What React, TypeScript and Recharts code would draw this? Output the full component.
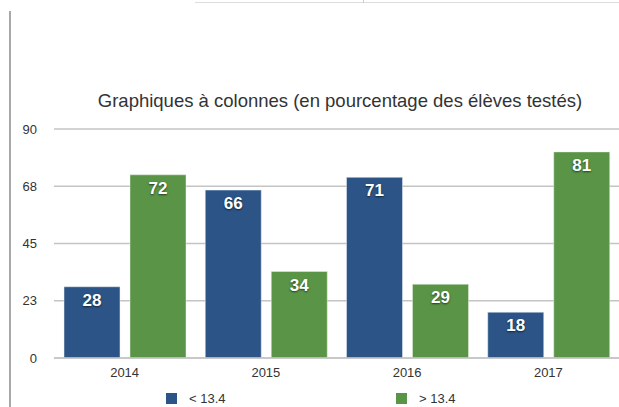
import React from "react";
import { Bar, BarChart, CartesianGrid, LabelList, XAxis, YAxis } from "recharts";

const years = ["2014", "2015", "2016", "2017"];
const below = [28, 66, 71, 18];
const above = [72, 34, 29, 81];
const yTicks = [0, 22.5, 45, 67.5, 90];

const data = years.map((year, i) => ({ year, below: below[i], above: above[i] }));

const BLUE = "#2c5487";
const GREEN = "#5a9446";
const FONT = "'Liberation Sans', Arial, sans-serif";

function LegendBox() {
  const item = (left: number, color: string, label: string) => (
    <div style={{ position: "absolute", left, top: 0, display: "flex", alignItems: "center" }}>
      <span style={{ width: 11, height: 11, background: color, display: "inline-block" }} />
      <span style={{ marginLeft: 12, fontSize: 13, color: "#333" }}>{label}</span>
    </div>
  );
  return (
    <div style={{ position: "absolute", left: 0, top: 391, width: 619, height: 16, fontFamily: FONT }}>
      {item(166, BLUE, "< 13.4")}
      {item(396, GREEN, "> 13.4")}
    </div>
  );
}

export default function App() {
  return (
    <div style={{ position: "absolute", left: 0, top: 0, width: 619, height: 407, background: "#fff", fontFamily: FONT }}>
      {/* bits of the surrounding page in the screenshot */}
      <div style={{ position: "absolute", left: 9, top: 11, width: 2, height: 396, background: "#a8a8a8" }} />
      <div style={{ position: "absolute", left: 195, top: 2, width: 424, height: 1, background: "#ddd" }} />
      <div style={{ position: "absolute", left: 363, top: 0, width: 1, height: 3, background: "#ccc" }} />

      <div
        style={{
          position: "absolute",
          left: 50,
          width: 580,
          top: 90,
          textAlign: "center",
          fontSize: 18.5,
          color: "#333",
        }}
      >
        Graphiques à colonnes (en pourcentage des élèves testés)
      </div>

      <div style={{ position: "absolute", left: 0, top: 0 }}>
        <BarChart
          width={619}
          height={407}
          data={data}
          margin={{ top: 129, right: 0, left: 0, bottom: 19 }}
          barGap={10}
          barCategoryGap={10}
        >
          <CartesianGrid horizontal vertical={false} stroke="#c4c4c4" strokeWidth={1.5} />
          <XAxis
            dataKey="year"
            height={30}
            axisLine={{ stroke: "#c4c4c4", strokeWidth: 1.5 }}
            tickLine={false}
            tickMargin={4}
            tick={{ fill: "#333", fontSize: 13 }}
          />
          <YAxis
            width={54}
            domain={[0, 90]}
            ticks={yTicks}
            axisLine={false}
            tickLine={false}
            tickMargin={11}
            tickFormatter={(v: number) => String(Math.round(v))}
            tick={{ fill: "#333", fontSize: 13 }}
          />
          <Bar dataKey="below" fill={BLUE} stroke="#e8eef5" strokeWidth={0.5} isAnimationActive={false}>
            <LabelList
              dataKey="below"
              position="insideTop"
              offset={7}
              fill="#fff"
              fontSize={17}
              fontWeight="bold"
              style={{ textShadow: "0 1px 2px rgba(0,0,0,0.6)" }}
            />
          </Bar>
          <Bar dataKey="above" fill={GREEN} stroke="#e8f0e4" strokeWidth={0.5} isAnimationActive={false}>
            <LabelList
              dataKey="above"
              position="insideTop"
              offset={7}
              fill="#fff"
              fontSize={17}
              fontWeight="bold"
              style={{ textShadow: "0 1px 2px rgba(0,0,0,0.6)" }}
            />
          </Bar>
        </BarChart>
      </div>
      <LegendBox />
    </div>
  );
}
